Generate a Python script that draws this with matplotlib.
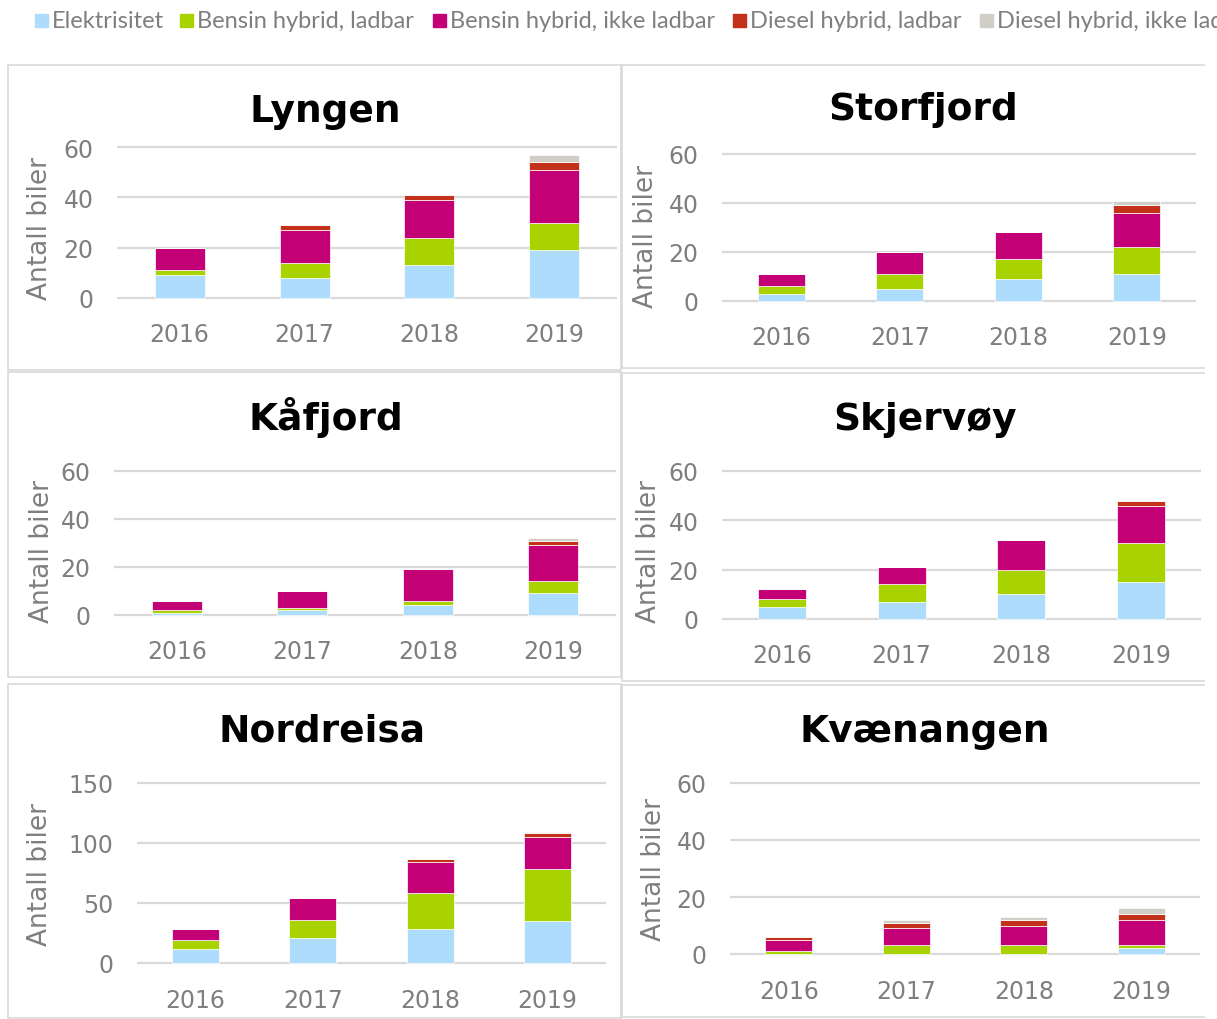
import matplotlib
matplotlib.use("Agg")
import matplotlib.pyplot as plt
from matplotlib.patches import Rectangle
from matplotlib.lines import Line2D

# Categories and series
years = ["2016", "2017", "2018", "2019"]
series = ["Elektrisitet", "Bensin hybrid, ladbar", "Bensin hybrid, ikke ladbar",
          "Diesel hybrid, ladbar", "Diesel hybrid, ikke ladbar"]
colors = ["#ADDCFD", "#A8D300", "#C40076", "#C4311A", "#D0CEC7"]

# Antall biler per kommune, one row per series (same order as `series`)
lyngen = [[9, 8, 13, 19],
          [2, 6, 11, 11],
          [9, 13, 15, 21],
          [0, 2, 2, 3],
          [0, 0, 0, 3]]
storfjord = [[3, 5, 9, 11],
             [3, 6, 8, 11],
             [5, 9, 11, 14],
             [0, 0, 0, 3],
             [0, 0, 0, 2]]
kafjord = [[1, 2, 4, 9],
           [1, 1, 2, 5],
           [4, 7, 13, 15],
           [0, 0, 0, 2],
           [0, 0, 0, 1]]
skjervoy = [[5, 7, 10, 15],
            [3, 7, 10, 16],
            [4, 7, 12, 15],
            [0, 0, 0, 2],
            [0, 0, 0, 0]]
nordreisa = [[12, 21, 28, 35],
             [7, 15, 30, 43],
             [9, 18, 26, 27],
             [0, 0, 3, 3],
             [0, 0, 0, 1]]
kvaenangen = [[0, 0, 0, 2],
              [1, 3, 3, 1],
              [4, 6, 7, 9],
              [1, 2, 2, 2],
              [0, 1, 1, 2]]

W, H = 1217, 1020
GRID = "#D9D9D9"
GRAY = "#7F7F7F"

fig = plt.figure(figsize=(W / 100, H / 100), dpi=100)

# panel layout in pixels: x0, x1, y of zero, y of top tick, title (x, baseline), ylabel (x, y)
panels = [
    ("Lyngen", lyngen, [0, 20, 40, 60], (117, 617, 299, 148), (325, 122), (40, 228)),
    ("Storfjord", storfjord, [0, 20, 40, 60], (722, 1196, 302, 155), (923, 120), (646, 236)),
    ("Kåfjord", kafjord, [0, 20, 40, 60], (114, 616, 616, 472), (326, 430), (42, 552)),
    ("Skjervøy", skjervoy, [0, 20, 40, 60], (722, 1201, 620, 472), (925, 430), (649, 552)),
    ("Nordreisa", nordreisa, [0, 50, 100, 150], (137, 606, 964, 784), (322, 742), (40, 875)),
    ("Kvænangen", kvaenangen, [0, 20, 40, 60], (730, 1200, 955, 784), (925, 742), (654, 870)),
]

# panel frames (right column has no right edge, it runs out of the picture)
def frame(x0, y0, x1, y1, right=True):
    xs = [x1, x0, x0, x1] if not right else [x1, x0, x0, x1, x1]
    ys = [y0, y0, y1, y1] if not right else [y0, y0, y1, y1, y0]
    fig.lines.append(Line2D([x / W for x in xs], [1 - y / H for y in ys],
                            transform=fig.transFigure, color=GRID, linewidth=1.2))

frame(8, 66, 621, 371)
frame(622, 66, 1204, 369, right=False)
frame(8, 373, 621, 678)
frame(622, 374, 1204, 682, right=False)
frame(8, 685, 621, 1019)
frame(622, 686, 1204, 1018, right=False)

for name, data, ticks, (x0, x1, yz, yt), (tx, ty), (lx, ly) in panels:
    ymax = ticks[-1]
    scale = (yz - yt) / ymax
    pad = 0.015 * ymax
    bot = yz + pad * scale
    top = yt - pad * scale
    ax = fig.add_axes([x0 / W, 1 - bot / H, (x1 - x0) / W, (bot - top) / H])
    ax.set_xlim(-0.5, 3.5)
    ax.set_ylim(-pad, ymax + pad)

    bottom = [0, 0, 0, 0]
    for vals, col in zip(data, colors):
        ax.bar(range(len(years)), vals, width=0.4, bottom=bottom, color=col,
               edgecolor="white", linewidth=0.5, zorder=3)
        bottom = [b + v for b, v in zip(bottom, vals)]

    ax.set_yticks(ticks)
    ax.set_xticks(range(len(years)))
    ax.set_xticklabels(years)
    ax.grid(axis="y", color=GRID, linewidth=1.6, zorder=0)
    ax.tick_params(length=0, labelsize=17, labelcolor=GRAY)
    ax.tick_params(axis="y", pad=17)
    ax.tick_params(axis="x", pad=16)
    for s in ax.spines.values():
        s.set_visible(False)

    fig.text(tx / W, 1 - ty / H, name, ha="center", va="baseline",
             fontsize=27, fontweight="bold", color="black")
    fig.text(lx / W, 1 - ly / H, "Antall biler", rotation=90, ha="center",
             va="center", fontsize=19, color=GRAY)

# legend across the top (runs off the right edge like the original)
leg_x = [35, 180, 433, 733, 980]
for x, label, col in zip(leg_x, series, colors):
    fig.patches.append(Rectangle((x / W, 1 - 28 / H), 13 / W, 13 / H,
                                 transform=fig.transFigure, color=col))
    fig.text((x + 17) / W, 1 - 21 / H, label, ha="left", va="center",
             fontsize=17, color=GRAY, family=["Lato", "DejaVu Sans"])

fig.savefig("out.png", dpi=100)
